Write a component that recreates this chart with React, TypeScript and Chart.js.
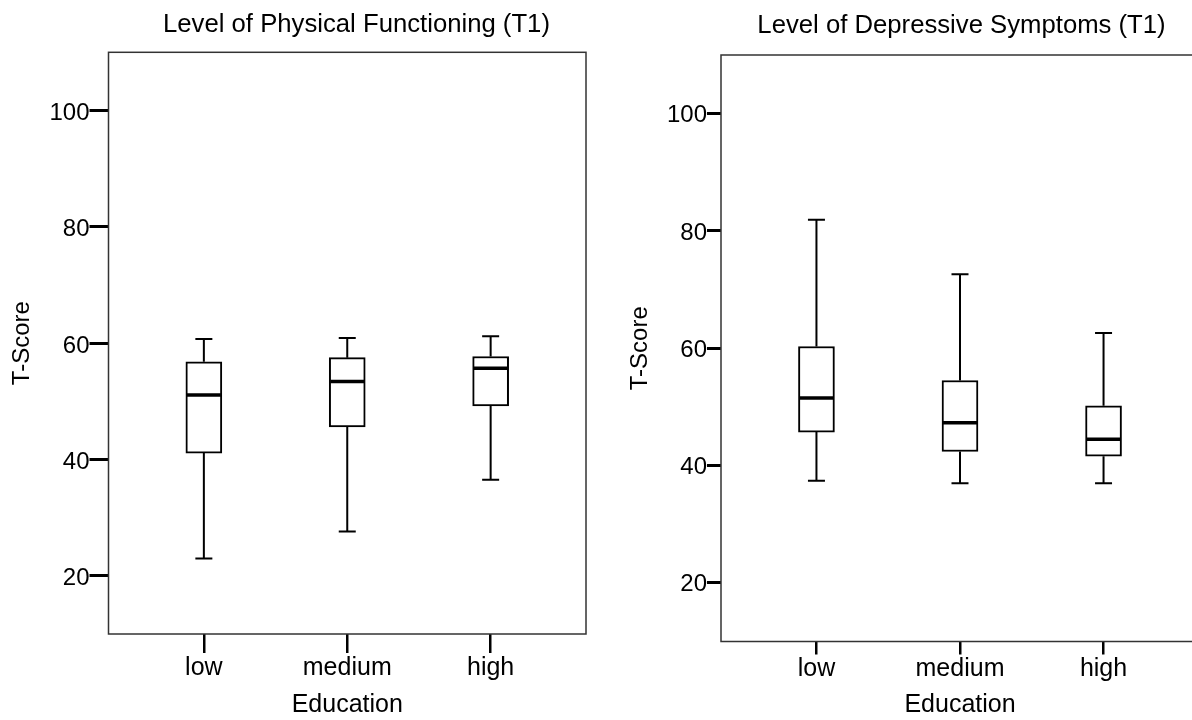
import React, { useEffect, useRef } from 'react';
import { Chart, registerables } from 'chart.js';

Chart.register(...registerables);

// ---------- data ----------
const categories = ['low', 'medium', 'high'];
const yTickValues = [20, 40, 60, 80, 100];

const physTitle = 'Level of Physical Functioning (T1)';
const physMin = [23.0, 27.6, 36.5];
const physQ1 = [41.1, 45.6, 49.2];
const physMedian = [51.1, 53.4, 55.7];
const physQ3 = [56.8, 57.5, 57.7];
const physMax = [60.7, 60.9, 61.2];

const depTitle = 'Level of Depressive Symptoms (T1)';
const depMin = [37.4, 37.0, 37.0];
const depQ1 = [45.7, 42.4, 41.6];
const depMedian = [51.5, 47.3, 44.5];
const depQ3 = [60.3, 54.5, 50.2];
const depMax = [81.9, 72.6, 62.6];

const yAxisTitle = 'T-Score';
const xAxisTitle = 'Education';

// ---------- layout / style ----------
const FONT = '"Liberation Sans", Arial, Helvetica, sans-serif';

type Panel = {
  title: string;
  min: number[];
  q1: number[];
  median: number[];
  q3: number[];
  max: number[];
  canvasLeft: number;
  canvasWidth: number;
  padLeft: number;
  padRight: number;
  padTop: number;
  yAxisWidth: number;
  xAxisHeight: number;
  yTickLength: number;
  xTickLength: number;
  yLabelOffset: number;
  titleX: number;
  titleBaseline: number;
};

const panels: Panel[] = [
  {
    title: physTitle,
    min: physMin, q1: physQ1, median: physMedian, q3: physQ3, max: physMax,
    canvasLeft: 0, canvasWidth: 712,
    padLeft: 0, padRight: 126, padTop: 52.3,
    yAxisWidth: 108.5, xAxisHeight: 86,
    yTickLength: 19, xTickLength: 19, yLabelOffset: 3,
    titleX: 356.5, titleBaseline: 31.7,
  },
  {
    title: depTitle,
    min: depMin, q1: depQ1, median: depMedian, q3: depQ3, max: depMax,
    canvasLeft: 600, canvasWidth: 722,
    padLeft: 18, padRight: 123, padTop: 55,
    yAxisWidth: 103, xAxisHeight: 78.5,
    yTickLength: 14, xTickLength: 13, yLabelOffset: 2,
    titleX: 361.5, titleBaseline: 33,
  },
];

const HEIGHT = 720;

function BoxPanel({ p }: { p: Panel }) {
  const ref = useRef<HTMLCanvasElement>(null);

  useEffect(() => {
    const canvas = ref.current;
    if (!canvas) return;

    const extras = {
      id: 'boxExtras',
      afterDatasetsDraw(chart: any) {
        const { ctx, chartArea, scales } = chart;
        const xs = scales.x;
        const ys = scales.y;
        const cap = 8.5;
        const half = 17;
        ctx.save();
        ctx.strokeStyle = '#000';
        ctx.lineCap = 'butt';
        for (let i = 0; i < categories.length; i++) {
          const cx = xs.getPixelForValue(i);
          const yMin = ys.getPixelForValue(p.min[i]);
          const yQ1 = ys.getPixelForValue(p.q1[i]);
          const yMed = ys.getPixelForValue(p.median[i]);
          const yQ3 = ys.getPixelForValue(p.q3[i]);
          const yMax = ys.getPixelForValue(p.max[i]);
          ctx.lineWidth = 2;
          ctx.beginPath();
          ctx.moveTo(cx, yQ3);
          ctx.lineTo(cx, yMax);
          ctx.moveTo(cx, yQ1);
          ctx.lineTo(cx, yMin);
          ctx.moveTo(cx - cap, yMax);
          ctx.lineTo(cx + cap, yMax);
          ctx.moveTo(cx - cap, yMin);
          ctx.lineTo(cx + cap, yMin);
          ctx.stroke();
          ctx.lineWidth = 3.5;
          ctx.beginPath();
          ctx.moveTo(cx - half, yMed);
          ctx.lineTo(cx + half, yMed);
          ctx.stroke();
        }
        ctx.lineWidth = 1.5;
        ctx.strokeStyle = '#333';
        ctx.strokeRect(
          chartArea.left,
          chartArea.top,
          chartArea.right - chartArea.left,
          chartArea.bottom - chartArea.top
        );
        ctx.fillStyle = '#000';
        ctx.font = `25.7px ${FONT}`;
        ctx.textAlign = 'center';
        ctx.textBaseline = 'alphabetic';
        ctx.fillText(p.title, p.titleX, p.titleBaseline);
        ctx.restore();
      },
    };

    const chart = new Chart(canvas, {
      type: 'bar',
      data: {
        datasets: [
          {
            data: categories.map((_, i) => ({ x: i, y: [p.q1[i], p.q3[i]] })) as any,
            backgroundColor: '#ffffff',
            borderColor: '#000000',
            borderWidth: 2,
            borderSkipped: false,
            barThickness: 36,
          },
        ],
      },
      options: {
        responsive: false,
        animation: false,
        events: [],
        layout: {
          padding: { left: p.padLeft, right: p.padRight, top: p.padTop, bottom: 0 },
        },
        plugins: {
          legend: { display: false },
          tooltip: { enabled: false },
          title: { display: false },
        },
        scales: {
          x: {
            type: 'linear',
            min: -0.665,
            max: 2.665,
            offset: false,
            afterBuildTicks: (s: any) => {
              s.ticks = categories.map((_, i) => ({ value: i }));
            },
            afterFit: (s: any) => {
              s.height = p.xAxisHeight;
            },
            ticks: {
              autoSkip: false,
              maxRotation: 0,
              padding: 0,
              color: '#000',
              font: { family: FONT, size: 25 },
              callback: (v: any) => categories[v as number] ?? '',
            },
            grid: {
              display: true,
              drawOnChartArea: false,
              drawTicks: true,
              tickLength: p.xTickLength,
              color: '#000',
              lineWidth: 2.5,
              offset: false,
            },
            border: { display: false },
            title: {
              display: true,
              text: xAxisTitle,
              color: '#000',
              font: { family: FONT, size: 25 },
              padding: { top: 0, bottom: 0 },
            },
          } as any,
          y: {
            type: 'linear',
            min: 10,
            max: 110,
            afterBuildTicks: (s: any) => {
              s.ticks = yTickValues.map((v) => ({ value: v }));
            },
            afterFit: (s: any) => {
              s.width = p.yAxisWidth;
            },
            ticks: {
              padding: 0,
              color: '#000',
              labelOffset: p.yLabelOffset,
              font: { family: FONT, size: 24 },
            },
            grid: {
              display: true,
              drawOnChartArea: false,
              drawTicks: true,
              tickLength: p.yTickLength,
              color: '#000',
              lineWidth: 3,
            },
            border: { display: false },
            title: {
              display: true,
              text: yAxisTitle,
              color: '#000',
              font: { family: FONT, size: 24 },
              padding: { top: 8, bottom: 0 },
            },
          } as any,
        },
      },
      plugins: [extras],
    });

    return () => chart.destroy();
  }, [p]);

  return (
    <canvas
      ref={ref}
      width={p.canvasWidth}
      height={HEIGHT}
      style={{
        position: 'absolute',
        left: p.canvasLeft,
        top: 0,
        width: p.canvasWidth,
        height: HEIGHT,
      }}
    />
  );
}

export default function App() {
  return (
    <div
      style={{
        position: 'fixed',
        left: 0,
        top: 0,
        width: 1192,
        height: 720,
        overflow: 'hidden',
        background: '#fff',
      }}
    >
      {panels.map((p, i) => (
        <BoxPanel key={i} p={p} />
      ))}
    </div>
  );
}
